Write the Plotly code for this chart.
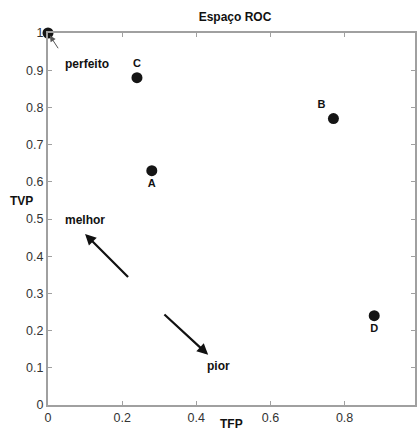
import plotly.graph_objects as go

# ROC points
labels = ["A", "B", "C", "D"]
tfp = [0.28, 0.77, 0.24, 0.88]
tvp = [0.63, 0.77, 0.88, 0.24]
label_pos = ["bottom center", "top left", "top center", "bottom center"]

perfect_x = [0.0]
perfect_y = [1.0]

x_ticks = [0, 0.2, 0.4, 0.6, 0.8]
y_ticks = [0, 0.1, 0.2, 0.3, 0.4, 0.5, 0.6, 0.7, 0.8, 0.9, 1]

font_bold = "Liberation Sans"
txt_size = 12

fig = go.Figure()
fig.add_trace(go.Scatter(
    x=tfp, y=tvp, mode="markers+text", text=["<b>%s</b>" % s for s in labels],
    textposition=label_pos,
    textfont=dict(family=font_bold, size=11, color="#111"),
    marker=dict(size=11, color="#151515"),
    cliponaxis=False, showlegend=False,
))
fig.add_trace(go.Scatter(
    x=perfect_x, y=perfect_y, mode="markers",
    marker=dict(size=11, color="#151515"),
    cliponaxis=False, showlegend=False,
))

annotations = [
    # perfeito label + arrow
    dict(x=0.005, y=0.993, ax=0.03, ay=0.955, axref="x", ayref="y",
         xref="x", yref="y", text="", showarrow=True, arrowhead=2,
         arrowwidth=1, arrowsize=1.2, arrowcolor="#555"),
    dict(x=0.040, y=0.917, xref="x", yref="y", text="<b>perfeito</b>",
         showarrow=False, xanchor="left",
         font=dict(family=font_bold, size=txt_size, color="#111")),
    # melhor
    dict(x=0.10, y=0.46, ax=0.22, ay=0.34, axref="x", ayref="y",
         xref="x", yref="y", text="", showarrow=True, arrowhead=2,
         arrowwidth=2.2, arrowsize=1, arrowcolor="#111"),
    dict(x=0.040, y=0.497, xref="x", yref="y", text="<b>melhor</b>",
         showarrow=False, xanchor="left",
         font=dict(family=font_bold, size=txt_size, color="#111")),
    # pior
    dict(x=0.432, y=0.135, ax=0.31, ay=0.247, axref="x", ayref="y",
         xref="x", yref="y", text="", showarrow=True, arrowhead=2,
         arrowwidth=2.2, arrowsize=1, arrowcolor="#111"),
    dict(x=0.424, y=0.105, xref="x", yref="y", text="<b>pior</b>",
         showarrow=False, xanchor="left",
         font=dict(family=font_bold, size=txt_size, color="#111")),
    # axis labels
    dict(x=-0.072, y=0.548, xref="paper", yref="paper", text="<b>TVP</b>",
         showarrow=False, xanchor="center", yanchor="middle",
         font=dict(family=font_bold, size=txt_size, color="#111")),
    dict(x=0.501, y=-0.051, xref="paper", yref="paper", text="<b>TFP</b>",
         showarrow=False, xanchor="center", yanchor="middle",
         font=dict(family=font_bold, size=txt_size, color="#111")),
]

fig.update_layout(
    width=417, height=431,
    margin=dict(l=48, r=0, t=33, b=26),
    paper_bgcolor="white", plot_bgcolor="white",
    title=dict(text="<b>Espaço ROC</b>", x=235/417, xanchor="center",
               y=1 - 17/431, yanchor="middle",
               font=dict(family=font_bold, size=txt_size, color="#111")),
    annotations=annotations,
)
fig.update_xaxes(range=[0, 0.99], tickvals=x_ticks,
                 ticktext=["0", "0.2", "0.4", "0.6", "0.8"],
                 showgrid=False, zeroline=False,
                 showline=True, linecolor="#a0a0a0", linewidth=2, mirror="ticks",
                 ticks="inside", ticklen=4, tickcolor="#a0a0a0",
                 tickfont=dict(family="Liberation Sans", size=12.5, color="#333"))
fig.update_yaxes(range=[0, 1], tickvals=y_ticks,
                 ticktext=["0", "0.1", "0.2", "0.3", "0.4", "0.5", "0.6", "0.7", "0.8", "0.9", "1"],
                 showgrid=False, zeroline=False,
                 showline=True, linecolor="#a0a0a0", linewidth=2, mirror="ticks",
                 ticks="inside", ticklen=4, tickcolor="#a0a0a0",
                 tickfont=dict(family="Liberation Sans", size=12.5, color="#333"))

fig.write_html("out.html", config={"displayModeBar": False},
               post_script="document.body.style.margin='0';document.body.style.overflow='hidden';")
